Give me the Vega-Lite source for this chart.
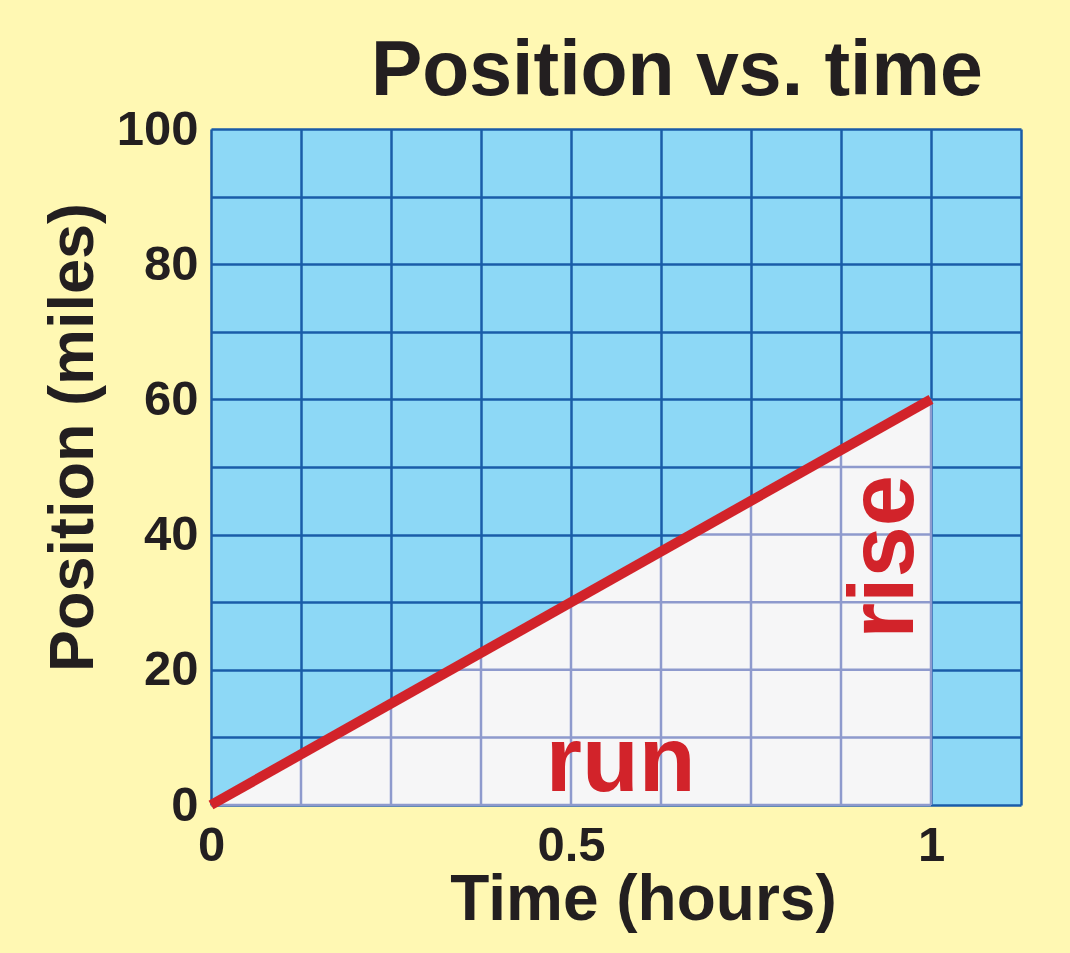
{
  "$schema": "https://vega.github.io/schema/vega-lite/v6.json",
  "autosize": {"type": "none"},
  "width": 810,
  "height": 676,
  "padding": {"left": 211, "top": 129, "right": 49, "bottom": 148},
  "background": "#FFF8B3",
  "config": {
    "view": {"fill": "#8DD8F6", "stroke": null},
    "axis": {
      "labelFont": "Liberation Sans",
      "labelFontWeight": "bold",
      "labelColor": "#231F20",
      "titleFont": "Liberation Sans",
      "titleFontWeight": "bold",
      "titleColor": "#231F20",
      "domain": false,
      "ticks": false,
      "grid": true,
      "gridColor": "#1A5CA8",
      "gridWidth": 2.5,
      "gridOpacity": 1
    }
  },
  "datasets": {
    "line": [{"t": 0, "p": 0}, {"t": 1, "p": 60}],
    "lightgrid": [
      {"a": 0.125, "a2": 0.125, "b": 0, "b2": 7.5},
      {"a": 0.25, "a2": 0.25, "b": 0, "b2": 15},
      {"a": 0.375, "a2": 0.375, "b": 0, "b2": 22.5},
      {"a": 0.5, "a2": 0.5, "b": 0, "b2": 30},
      {"a": 0.625, "a2": 0.625, "b": 0, "b2": 37.5},
      {"a": 0.75, "a2": 0.75, "b": 0, "b2": 45},
      {"a": 0.875, "a2": 0.875, "b": 0, "b2": 52.5},
      {"a": 1, "a2": 1, "b": 0, "b2": 60},
      {"a": 0.1667, "a2": 1, "b": 10, "b2": 10},
      {"a": 0.3333, "a2": 1, "b": 20, "b2": 20},
      {"a": 0.5, "a2": 1, "b": 30, "b2": 30},
      {"a": 0.6667, "a2": 1, "b": 40, "b2": 40},
      {"a": 0.8333, "a2": 1, "b": 50, "b2": 50},
      {"a": 0, "a2": 1, "b": 0, "b2": 0}
    ],
    "title": [{"t": 0.647, "p": 105, "label": "Position vs. time"}],
    "run": [{"t": 0.569, "p": 2.07, "label": "run"}],
    "rise": [{"t": 0.975, "p": 36.7, "label": "rise"}]
  },
  "layer": [
    {
      "data": {"name": "line"},
      "mark": {"type": "area", "fill": "#F6F6F7", "opacity": 1},
      "encoding": {
        "x": {
          "field": "t", "type": "quantitative",
          "scale": {"domain": [0, 1.125], "nice": false, "zero": false},
          "axis": {
            "values": [0, 0.125, 0.25, 0.375, 0.5, 0.625, 0.75, 0.875, 1, 1.125],
            "labelExpr": "datum.value == 0 ? '0' : datum.value == 0.5 ? '0.5' : datum.value == 1 ? '1' : ''",
            "labelFontSize": 49,
            "labelPadding": 16,
            "labelBaseline": "top",
            "labelAlign": "center",
            "labelOverlap": false,
            "labelFlush": false,
            "title": "Time (hours)",
            "titleFontSize": 64,
            "titleX": 432,
            "titleY": 114,
            "titleBaseline": "alphabetic",
            "titleAlign": "center"
          }
        },
        "y": {
          "field": "p", "type": "quantitative",
          "scale": {"domain": [0, 100], "nice": false},
          "axis": {
            "values": [0, 10, 20, 30, 40, 50, 60, 70, 80, 90, 100],
            "labelExpr": "datum.value % 20 == 0 ? datum.label : ''",
            "labelFontSize": 49,
            "labelPadding": 13,
            "labelBaseline": "middle",
            "labelOverlap": false,
            "labelFlush": false,
            "title": "Position (miles)",
            "titleFontSize": 63,
            "titleAngle": 270,
            "titleX": -119,
            "titleY": 308,
            "titleBaseline": "alphabetic",
            "titleAlign": "center"
          }
        }
      }
    },
    {
      "data": {"name": "lightgrid"},
      "mark": {"type": "rule", "color": "#8E9ACD", "strokeWidth": 2.5},
      "encoding": {
        "x": {"field": "a", "type": "quantitative"},
        "x2": {"field": "a2"},
        "y": {"field": "b", "type": "quantitative"},
        "y2": {"field": "b2"}
      }
    },
    {
      "data": {"name": "line"},
      "mark": {"type": "line", "color": "#D2232A", "strokeWidth": 10, "strokeCap": "butt"},
      "encoding": {
        "x": {"field": "t", "type": "quantitative"},
        "y": {"field": "p", "type": "quantitative"}
      }
    },
    {
      "data": {"name": "run"},
      "mark": {"type": "text", "font": "Liberation Sans", "fontWeight": "bold", "fontSize": 93, "color": "#D2232A", "align": "center", "baseline": "alphabetic"},
      "encoding": {
        "x": {"field": "t", "type": "quantitative"},
        "y": {"field": "p", "type": "quantitative"},
        "text": {"field": "label"}
      }
    },
    {
      "data": {"name": "rise"},
      "mark": {"type": "text", "font": "Liberation Sans", "fontWeight": "bold", "fontSize": 92, "color": "#D2232A", "align": "center", "baseline": "alphabetic", "angle": 270},
      "encoding": {
        "x": {"field": "t", "type": "quantitative"},
        "y": {"field": "p", "type": "quantitative"},
        "text": {"field": "label"}
      }
    },
    {
      "data": {"name": "title"},
      "mark": {"type": "text", "font": "Liberation Sans", "fontWeight": "bold", "fontSize": 77, "color": "#231F20", "align": "center", "baseline": "alphabetic", "clip": false},
      "encoding": {
        "x": {"field": "t", "type": "quantitative"},
        "y": {"field": "p", "type": "quantitative"},
        "text": {"field": "label"}
      }
    }
  ]
}
